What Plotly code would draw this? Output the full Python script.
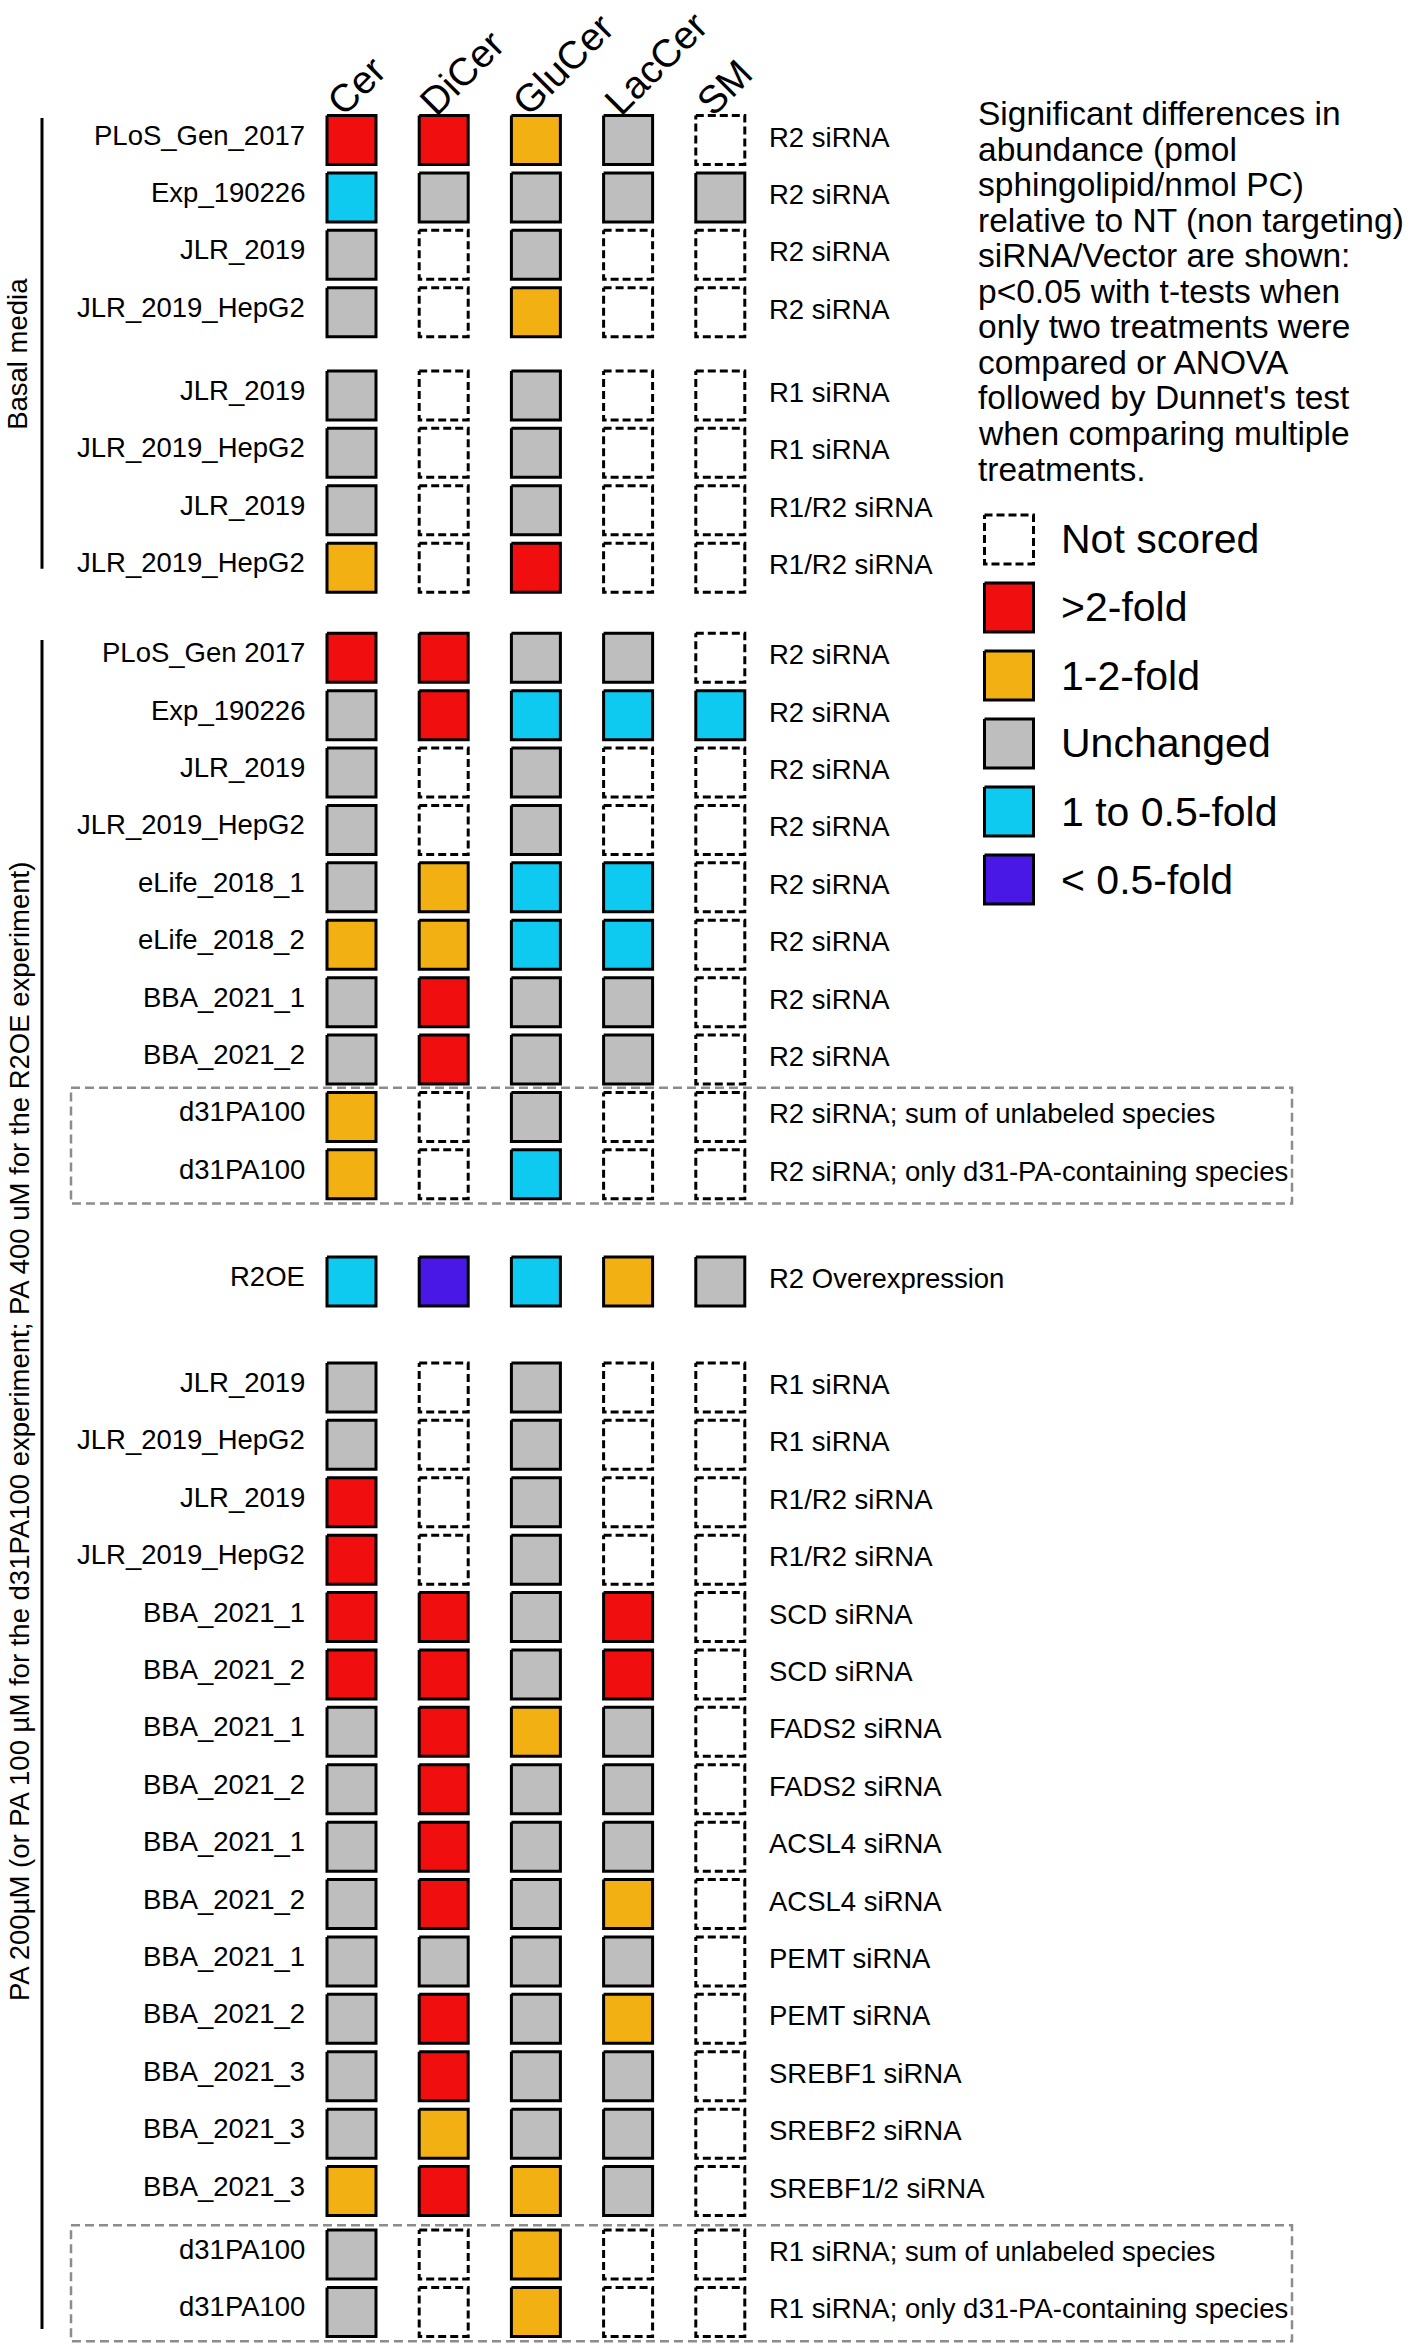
import plotly.graph_objects as go

# ---------------- data ----------------
columns = ["Cer", "DiCer", "GluCer", "LacCer", "SM"]

row_labels = [
    "PLoS_Gen_2017", "Exp_190226", "JLR_2019", "JLR_2019_HepG2",
    "JLR_2019", "JLR_2019_HepG2", "JLR_2019", "JLR_2019_HepG2",
    "PLoS_Gen 2017", "Exp_190226", "JLR_2019", "JLR_2019_HepG2",
    "eLife_2018_1", "eLife_2018_2", "BBA_2021_1", "BBA_2021_2",
    "d31PA100", "d31PA100",
    "R2OE",
    "JLR_2019", "JLR_2019_HepG2", "JLR_2019", "JLR_2019_HepG2",
    "BBA_2021_1", "BBA_2021_2", "BBA_2021_1", "BBA_2021_2",
    "BBA_2021_1", "BBA_2021_2", "BBA_2021_1", "BBA_2021_2",
    "BBA_2021_3", "BBA_2021_3", "BBA_2021_3",
    "d31PA100", "d31PA100",
]

right_labels = [
    "R2 siRNA", "R2 siRNA", "R2 siRNA", "R2 siRNA",
    "R1 siRNA", "R1 siRNA", "R1/R2 siRNA", "R1/R2 siRNA",
    "R2 siRNA", "R2 siRNA", "R2 siRNA", "R2 siRNA",
    "R2 siRNA", "R2 siRNA", "R2 siRNA", "R2 siRNA",
    "R2 siRNA; sum of unlabeled species", "R2 siRNA; only d31-PA-containing species",
    "R2 Overexpression",
    "R1 siRNA", "R1 siRNA", "R1/R2 siRNA", "R1/R2 siRNA",
    "SCD siRNA", "SCD siRNA", "FADS2 siRNA", "FADS2 siRNA",
    "ACSL4 siRNA", "ACSL4 siRNA", "PEMT siRNA", "PEMT siRNA",
    "SREBF1 siRNA", "SREBF2 siRNA", "SREBF1/2 siRNA",
    "R1 siRNA; sum of unlabeled species", "R1 siRNA; only d31-PA-containing species",
]

# status codes: N not scored, R >2-fold, O 1-2-fold, G unchanged, C 1 to 0.5-fold, P <0.5-fold
cer = ["R", "C", "G", "G", "G", "G", "G", "O",
       "R", "G", "G", "G", "G", "O", "G", "G", "O", "O", "C",
       "G", "G", "R", "R", "R", "R", "G", "G", "G", "G", "G", "G", "G", "G", "O", "G", "G"]
dicer = ["R", "G", "N", "N", "N", "N", "N", "N",
         "R", "R", "N", "N", "O", "O", "R", "R", "N", "N", "P",
         "N", "N", "N", "N", "R", "R", "R", "R", "R", "R", "G", "R", "R", "O", "R", "N", "N"]
glucer = ["O", "G", "G", "O", "G", "G", "G", "R",
          "G", "C", "G", "G", "C", "C", "G", "G", "G", "C", "C",
          "G", "G", "G", "G", "G", "G", "O", "G", "G", "G", "G", "G", "G", "G", "O", "O", "O"]
laccer = ["G", "G", "N", "N", "N", "N", "N", "N",
          "G", "C", "N", "N", "C", "C", "G", "G", "N", "N", "O",
          "N", "N", "N", "N", "R", "R", "G", "G", "G", "O", "G", "O", "G", "G", "G", "N", "N"]
sm = ["N", "G", "N", "N", "N", "N", "N", "N",
      "N", "C", "N", "N", "N", "N", "N", "N", "N", "N", "G",
      "N", "N", "N", "N", "N", "N", "N", "N", "N", "N", "N", "N", "N", "N", "N", "N", "N"]

status_codes = ["N", "R", "O", "G", "C", "P"]
status_names = ["Not scored", ">2-fold", "1-2-fold", "Unchanged", "1 to 0.5-fold", "< 0.5-fold"]
status_colors = ["#FFFFFF", "#F00E0E", "#F2B012", "#BEBEBE", "#0FCAF0", "#4A18E6"]

description = [
    "Significant differences in",
    "abundance (pmol",
    "sphingolipid/nmol PC)",
    "relative to NT (non targeting)",
    "siRNA/Vector are shown:",
    "p<0.05 with t-tests when",
    "only two treatments were",
    "compared or ANOVA",
    "followed by Dunnet's test",
    "when comparing multiple",
    "treatments.",
]

group_basal = "Basal media"
group_pa = "PA 200µM (or PA 100 µM for the d31PA100 experiment; PA 400 uM for the R2OE experiment)"

# ---------------- layout constants ----------------
W, H = 1418, 2344
FONT = "Liberation Sans, Arial, Helvetica, sans-serif"
COL_X0, COL_PITCH = 351.5, 92.2      # px of first column centre, px per column
ROW_Y0, ROW_PITCH = 140.0, 57.4      # px of first row centre, px per row
HALF_W = 24.5 / COL_PITCH
HALF_H = 24.5 / ROW_PITCH

# row blocks: (number of rows, extra gap before block in row units)
blocks = [(4, 0.0), (4, 0.45), (8, 0.57), (2, 0.0), (1, 0.867), (15, 0.846), (2, 0.105)]
row_y = []
offset = 0.0
idx = 0
for n, gap in blocks:
    offset += gap
    for _ in range(n):
        row_y.append(idx + offset)
        idx += 1


def px_x(p):
    return (p - COL_X0) / COL_PITCH


def px_y(p):
    return (p - ROW_Y0) / ROW_PITCH


grid = [cer, dicer, glucer, laccer, sm]

fig = go.Figure()


def add_boxes(cells, code, name):
    xs, ys = [], []
    for cx, cy in cells:
        xs += [cx - HALF_W, cx + HALF_W, cx + HALF_W, cx - HALF_W, cx - HALF_W, None]
        ys += [cy - HALF_H, cy - HALF_H, cy + HALF_H, cy + HALF_H, cy - HALF_H, None]
    k = status_codes.index(code)
    dashed = code == "N"
    fig.add_trace(go.Scatter(
        x=xs, y=ys, mode="lines", name=name,
        fill="toself", fillcolor=status_colors[k],
        line=dict(color="#000000", width=3, dash="8px,4px" if dashed else "solid"),
        hoverinfo="skip", showlegend=False,
    ))


for code, nm in zip(status_codes, status_names):
    cells = []
    for ci, col in enumerate(grid):
        for ri, v in enumerate(col):
            if v == code:
                cells.append((ci, row_y[ri]))
    add_boxes(cells, code, nm)

# legend swatches
LEG_X, LEG_Y0, LEG_PITCH = 1009.0, 539.5, 68.0
for k, (code, nm) in enumerate(zip(status_codes, status_names)):
    add_boxes([(px_x(LEG_X), px_y(LEG_Y0 + k * LEG_PITCH))], code, nm + " (legend)")

annotations = []
# column headers
for ci, c in enumerate(columns):
    annotations.append(dict(
        x=ci, y=1 - 126 / H, xref="x", yref="paper", text=c, showarrow=False,
        xanchor="left", yanchor="bottom", xshift=-35, textangle=-45,
        font=dict(family=FONT, size=39, color="#000000"),
    ))
# row labels
for ri, (lab, rlab) in enumerate(zip(row_labels, right_labels)):
    annotations.append(dict(
        x=-0.5, y=row_y[ri], xref="x", yref="y", text=lab, showarrow=False,
        xanchor="right", yanchor="middle", xshift=2, yshift=5,
        font=dict(family=FONT, size=27.5, color="#000000"),
    ))
    annotations.append(dict(
        x=len(columns) - 0.5, y=row_y[ri], xref="x", yref="y", text=rlab, showarrow=False,
        xanchor="left", yanchor="middle", xshift=1, yshift=3,
        font=dict(family=FONT, size=27.5, color="#000000"),
    ))
# legend labels
for k, nm in enumerate(status_names):
    annotations.append(dict(
        x=1059 / W, y=1 - (LEG_Y0 + k * LEG_PITCH) / H, xref="paper", yref="paper",
        text=nm, showarrow=False, xanchor="left", yanchor="middle",
        font=dict(family=FONT, size=41, color="#000000"),
    ))
# description
for k, line in enumerate(description):
    annotations.append(dict(
        x=976 / W, y=1 - (113.5 + k * 35.55) / H, xref="paper", yref="paper",
        text=line, showarrow=False, xanchor="left", yanchor="middle",
        font=dict(family=FONT, size=33.5, color="#000000"),
    ))
# group labels (vertical)
annotations.append(dict(
    x=18 / W, y=(row_y[0] + row_y[7]) / 2, xref="paper", yref="y", text=group_basal,
    showarrow=False, textangle=-90, xanchor="center", yanchor="middle",
    font=dict(family=FONT, size=27.5, color="#000000"),
))
annotations.append(dict(
    x=19 / W, y=1 - 1432 / H, xref="paper", yref="paper", text=group_pa,
    showarrow=False, textangle=-90, xanchor="center", yanchor="middle",
    font=dict(family=FONT, size=27.5, color="#000000"),
))

shapes = []
LINE_X = px_x(42)
shapes.append(dict(type="line", xref="x", yref="y", x0=LINE_X, x1=LINE_X,
                   y0=row_y[0] - 0.383, y1=row_y[7] + 0.02,
                   line=dict(color="#000000", width=3)))
shapes.append(dict(type="line", xref="x", yref="y", x0=LINE_X, x1=LINE_X,
                   y0=row_y[8] - 0.31, y1=row_y[35] + 0.3,
                   line=dict(color="#000000", width=3)))
for a, b in [(16, 17), (34, 35)]:
    shapes.append(dict(type="rect", xref="x", yref="y",
                       x0=px_x(71), x1=px_x(1292), y0=row_y[a] - 0.51, y1=row_y[b] + 0.51,
                       line=dict(color="#8C8C8C", width=2.5, dash="9px,5px"),
                       fillcolor="rgba(0,0,0,0)", layer="below"))

fig.update_layout(
    width=W, height=H,
    margin=dict(l=0, r=0, t=0, b=0),
    paper_bgcolor="#FFFFFF", plot_bgcolor="#FFFFFF",
    xaxis=dict(range=[px_x(0), px_x(W)], visible=False, fixedrange=True),
    yaxis=dict(range=[px_y(H), px_y(0)], visible=False, fixedrange=True),
    annotations=annotations, shapes=shapes,
    showlegend=False,
)

fig.write_html("out.html", config={"displayModeBar": False, "staticPlot": True},
               post_script="document.body.style.margin='0px';")
